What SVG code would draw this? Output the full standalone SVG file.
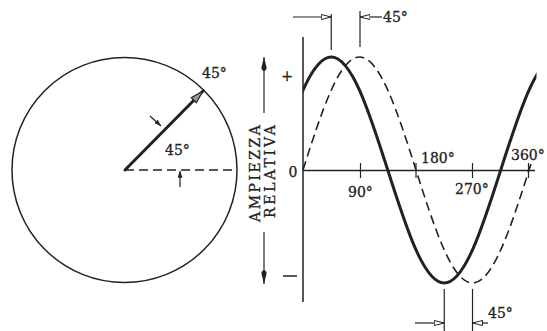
<svg xmlns="http://www.w3.org/2000/svg" width="547" height="331" viewBox="0 0 547 331">
<style>
  .ln { fill: none; stroke: #222; stroke-width: 1.5; }
  .thin { fill: none; stroke: #222; stroke-width: 1.2; }
  .bold { fill: none; stroke: #222; stroke-width: 3; stroke-linecap: round; }
  .dash { fill: none; stroke: #222; stroke-width: 1.6; stroke-dasharray: 9 5; }
  .t { font-family: "DejaVu Serif", "Liberation Serif", serif; font-size: 14px; fill: #222; stroke: #222; stroke-width: 0.3; }
</style>
<defs>
  <marker id="ah" viewBox="0 0 10 6" refX="10" refY="3" markerWidth="10" markerHeight="6" markerUnits="userSpaceOnUse" orient="auto">
    <path d="M0,0.5 L10,3 L0,5.5 Z" fill="#fff" stroke="#222" stroke-width="1"/>
  </marker>
  <marker id="sm" viewBox="0 0 8 6" refX="8" refY="3" markerWidth="7" markerHeight="5" markerUnits="userSpaceOnUse" orient="auto">
    <path d="M0,0 L8,3 L0,6 Z" fill="#222"/>
  </marker>
  <marker id="big" viewBox="0 0 14 6" refX="14" refY="3" markerWidth="14" markerHeight="6" markerUnits="userSpaceOnUse" orient="auto">
    <path d="M0,3 Q1,0 4,0.5 L14,3 L4,5.5 Q1,6 0,3 Z" fill="#222"/>
  </marker>
  <clipPath id="graphClip"><rect x="303" y="0" width="233.5" height="331"/></clipPath>
</defs>
<rect width="547" height="331" fill="#fff"/>

<g id="circle-diagram">
  <circle cx="124.5" cy="170" r="112.5" class="ln"/>
  <line x1="125" y1="170" x2="237" y2="170" class="dash" stroke-dasharray="7 4"/>
  <line x1="125" y1="170" x2="203" y2="91" class="bold" stroke-width="2.6"/>
  <polygon points="203,91 196.3,102.7 191.3,97.7" fill="#999" stroke="#222" stroke-width="1.2"/>
  <text class="t" x="202" y="78">45°</text>
  <text class="t" x="165" y="155">45°</text>
</g>

<g id="connectors">
  <line x1="150" y1="116" x2="161" y2="126" class="thin" marker-end="url(#sm)"/>
  <line x1="180" y1="187" x2="180" y2="171" class="thin" marker-end="url(#sm)"/>
  <line x1="264" y1="113" x2="264" y2="57" class="thin" marker-end="url(#big)"/>
  <line x1="264" y1="232" x2="264" y2="284" class="thin" marker-end="url(#big)"/>
  <line x1="331.25" y1="14" x2="331.25" y2="50" class="thin"/>
  <line x1="360" y1="11" x2="360" y2="47" class="thin"/>
  <line x1="293" y1="17" x2="331.25" y2="17" class="thin" marker-end="url(#ah)"/>
  <line x1="382" y1="17" x2="360" y2="17" class="thin" marker-end="url(#ah)"/>
  <line x1="444.25" y1="289" x2="444.25" y2="331" class="thin"/>
  <line x1="472.5" y1="289" x2="472.5" y2="331" class="thin"/>
  <line x1="415" y1="323" x2="444.25" y2="323" class="thin" marker-end="url(#ah)"/>
  <line x1="488" y1="323" x2="472.5" y2="323" class="thin" marker-end="url(#ah)"/>
</g>

<g id="axes">
  <line x1="303" y1="37" x2="303" y2="302" class="ln"/>
  <line x1="303" y1="170.5" x2="535" y2="170.5" class="ln"/>
  <line x1="360.5" y1="163" x2="360.5" y2="178" class="thin"/>
  <line x1="416" y1="163" x2="416" y2="178" class="thin"/>
  <line x1="472.5" y1="163" x2="472.5" y2="178" class="thin"/>
  <line x1="528.5" y1="163" x2="528.5" y2="178" class="thin"/>
</g>

<g id="curves">
  <path class="dash" d="M303,170 C321.43,112.11 339.05,57 359.5,57 C379.95,57 397.57,112.11 416,170 C434.43,227.89 452.05,283 472.5,283 C492.95,283 510.57,227.89 529,170 L532.2,160"/>
  <g clip-path="url(#graphClip)">
    <path class="bold" stroke-linecap="butt" d="M274.75,170 C293.18,112.11 310.8,57 331.25,57 C351.7,57 369.32,112.11 387.75,170 C406.18,227.89 423.8,283 444.25,283 C464.7,283 482.32,227.89 500.75,170 C519.18,112.11 536.8,57 557.25,57"/>
  </g>
</g>

<g id="labels">
  <text class="t" x="383" y="22">45°</text>
  <text class="t" x="488" y="318">45°</text>
  <text class="t" x="293" y="177" text-anchor="middle">0</text>
  <text class="t" x="348" y="197">90°</text>
  <text class="t" x="421" y="163">180°</text>
  <text class="t" x="455" y="194">270°</text>
  <text class="t" x="511" y="160">360°</text>
  <text class="t" x="287" y="81" text-anchor="middle" font-size="26">+</text>
  <line x1="283" y1="276" x2="297" y2="276" class="ln"/>
  <text class="t" transform="translate(260,222) rotate(-90)" textLength="97" lengthAdjust="spacing">AMPIEZZA</text>
  <text class="t" transform="translate(275,218) rotate(-90)" textLength="93" lengthAdjust="spacing">RELATIVA</text>
</g>
</svg>
